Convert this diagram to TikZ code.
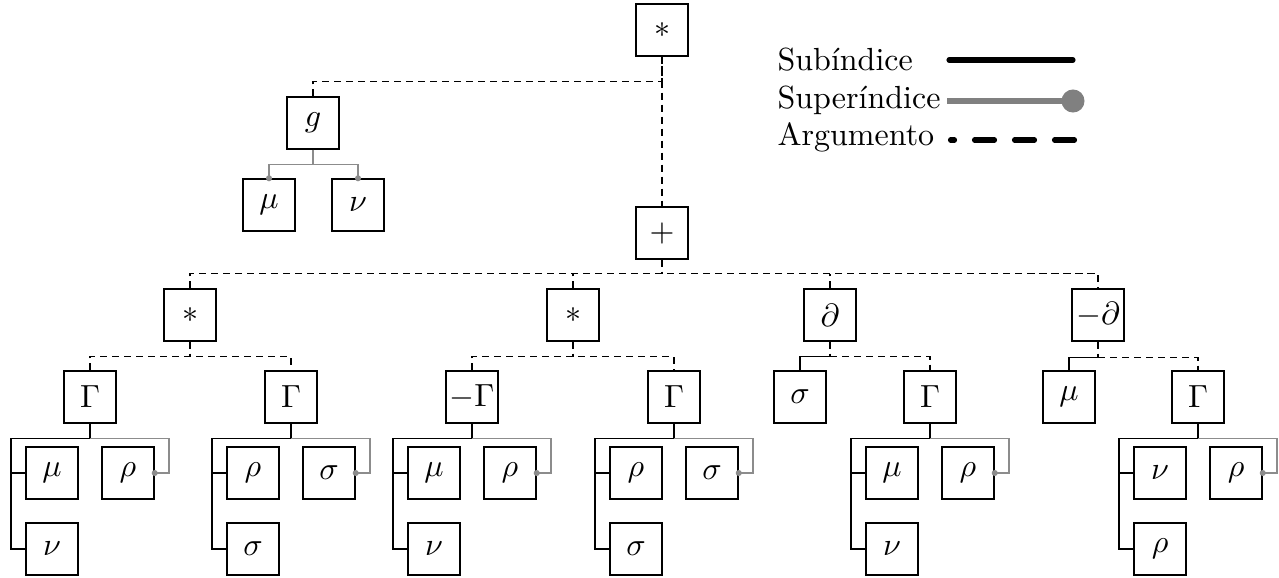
\documentclass[tikz,border=0pt]{standalone}
\usetikzlibrary{calc}
\definecolor{supcol}{gray}{0.55}
\definecolor{legsup}{gray}{0.5}
\tikzset{
  box/.style={draw, line width=0.45pt, minimum size=16.25pt, inner sep=0pt},
  sub/.style={draw, line width=0.45pt},
  sup/.style={draw=supcol, line width=0.45pt},
  arg/.style={draw, line width=0.45pt, dash pattern=on 2.2pt off 1.55pt},
  legtxt/.style={anchor=base west, inner sep=0pt},
}
\newcommand\supdot[1]{\fill[supcol] (#1) circle (0.95pt);}
\newcommand\gtree[4]{%
  \node[box] (#1a) at ([shift={(-38,76)}]#1.center) {$#2$};
  \node[box] (#1b) at ([shift={(38,76)}]#1.center) {$#3$};
  \node[box] (#1c) at ([shift={(-38,152)}]#1.center) {$#4$};
  \draw[sub] (#1.south) -- ++(0,15) coordinate (#1j) -- ++(-79,0) |- (#1c.west);
  \draw[sub] (#1a.west) -- ++(-15,0);
  \draw[sup] (#1j) -- ++(79,0) |- (#1b.east);
  \supdot{#1b.east}
}
\begin{document}
\begin{tikzpicture}[x=0.3125pt, y=-0.3125pt]
\useasboundingbox (0,0) rectangle (1279,577);
% top
\node[box] (root) at (662,30) {$*$};
\node[box] (g) at (313,123) {$g$};
\node[box] (gmu) at (269,205) {$\mu$};
\node[box] (gnu) at (358,205) {$\nu$};
\node[box] (plus) at (662,233) {$+$};
\draw[arg] (root.south) -- (plus.north);
\draw[arg] (g.north) -- ++(0,-15) -| (root.south);
\draw[sup] (g.south) -- ++(0,15) coordinate (gj);
\draw[sup] (gmu.north) |- (gj) -| (gnu.north);
\supdot{gmu.north}
\supdot{gnu.north}
% level 2
\node[box] (A) at (190,315) {$*$};
\node[box] (B) at (573,315) {$*$};
\node[box] (C) at (830,315) {$\partial$};
\node[box] (D) at (1098,315) {$-\partial$};
\draw[arg] (plus.south) -- ++(0,14) coordinate (pj);
\draw[arg] (A.north) |- (pj) -| (D.north);
\draw[arg] (B.north) -- (B.north |- pj);
\draw[arg] (C.north) -- (C.north |- pj);
% level 3
\node[box] (A1) at (90,397) {$\Gamma$};
\node[box] (A2) at (291,397) {$\Gamma$};
\node[box] (B1) at (472,397) {$-\Gamma$};
\node[box] (B2) at (674,397) {$\Gamma$};
\node[box] (C1) at (800,397) {$\sigma$};
\node[box] (C2) at (930,397) {$\Gamma$};
\node[box] (D1) at (1069,397) {$\mu$};
\node[box] (D2) at (1198,397) {$\Gamma$};
\draw[arg] (A.south) -- ++(0,15) coordinate (Aj);
\draw[arg] (A1.north) |- (Aj) -| (A2.north);
\draw[arg] (B.south) -- ++(0,15) coordinate (Bj);
\draw[arg] (B1.north) |- (Bj) -| (B2.north);
\draw[arg] (C.south) -- ++(0,15) coordinate (Cj);
\draw[sub] (C1.north) |- (Cj);
\draw[arg] (Cj) -| (C2.north);
\draw[arg] (D.south) -- ++(0,16) coordinate (Dj);
\draw[sub] (D1.north) |- (Dj);
\draw[arg] (Dj) -| (D2.north);
% level 4
\gtree{A1}{\mu}{\rho}{\nu}
\gtree{A2}{\rho}{\sigma}{\sigma}
\gtree{B1}{\mu}{\rho}{\nu}
\gtree{B2}{\rho}{\sigma}{\sigma}
\gtree{C2}{\mu}{\rho}{\nu}
\gtree{D2}{\nu}{\rho}{\rho}
% legend
\node[legtxt] (l1) at (777,70) {Subíndice};
\node[legtxt] (l2) at (777,108) {Superíndice};
\node[legtxt] (l3) at (777,145) {Argumento};
\coordinate (s1a) at (949,60); \coordinate (s1b) at (1073,60);
\coordinate (s2a) at (947,101); \coordinate (s2b) at (1073,101);
\coordinate (s3a) at (950.5,140); \coordinate (s3b) at (1075,140);
\draw[line width=1.6pt, line cap=round] (s1a) -- (s1b);
\draw[legsup, line width=1.6pt] (s2a) -- (s2b);
\fill[legsup] (s2b) circle (3.6pt);
\draw[line width=1.6pt, line cap=round, dash pattern=on 6.25pt off 6.25pt, dash phase=5pt] (s3a) -- (s3b);
\end{tikzpicture}
\end{document}
